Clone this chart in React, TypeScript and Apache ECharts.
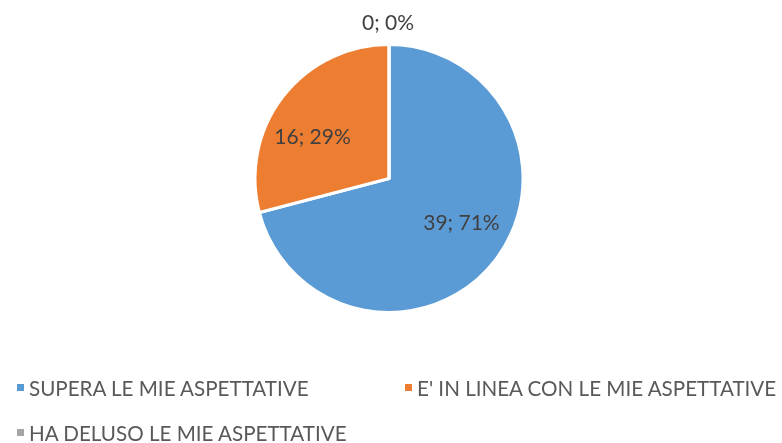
import React, { useEffect, useRef } from "react";
import * as echarts from "echarts";

const categories = [
  "SUPERA LE MIE ASPETTATIVE",
  "E' IN LINEA CON LE MIE ASPETTATIVE",
  "HA DELUSO LE MIE ASPETTATIVE",
];
const values = [39, 16, 0];
const colors = ["#5B9BD5", "#ED7D31", "#A5A5A5"];

const FONT = "Lato";

export default function App() {
  const ref = useRef<HTMLDivElement>(null);
  useEffect(() => {
    if (!ref.current) return;
    const chart = echarts.init(ref.current, null, { renderer: "svg" });
    const labelPaddings = [
      [0, 0, 0, 34],
      [5, 42, 0, 0],
      [0, 0, 0, 0],
    ];
    const labelOffsets = [
      [0, 0],
      [0, 0],
      [-1, -87],
    ];
    const legendPos = [
      { left: 12, top: 372 },
      { left: 400, top: 372 },
      { left: 12, top: 417 },
    ];
    chart.setOption({
      animation: false,
      color: colors,
      legend: categories.map((name, i) => ({
        data: [name],
        left: legendPos[i].left,
        top: legendPos[i].top,
        icon: "rect",
        itemWidth: 7,
        itemHeight: 7,
        selectedMode: false,
        itemStyle: { borderWidth: 0 },
        textStyle: {
          fontFamily: FONT,
          fontSize: 20.6,
          color: "#595959",
        },
      })),
      series: [
        {
          type: "pie",
          center: [389, 178.5],
          radius: [0, 134],
          startAngle: 90,
          clockwise: true,
          percentPrecision: 0,
          silent: true,
          emphasis: { disabled: true },
          itemStyle: { borderColor: "#ffffff", borderWidth: 3 },
          label: {
            show: true,
            position: "inside",
            formatter: "{c}; {d}%",
            fontFamily: FONT,
            fontSize: 21,
            color: "#404040",
          },
          labelLine: { show: false },
          data: categories.map((name, i) => ({
            name,
            value: values[i],
            label: {
              padding: labelPaddings[i],
              offset: labelOffsets[i],
            },
          })),
        },
      ],
    });
    return () => chart.dispose();
  }, []);
  return (
    <div
      ref={ref}
      style={{ position: "fixed", left: 0, top: 0, width: 782, height: 443 }}
    />
  );
}
